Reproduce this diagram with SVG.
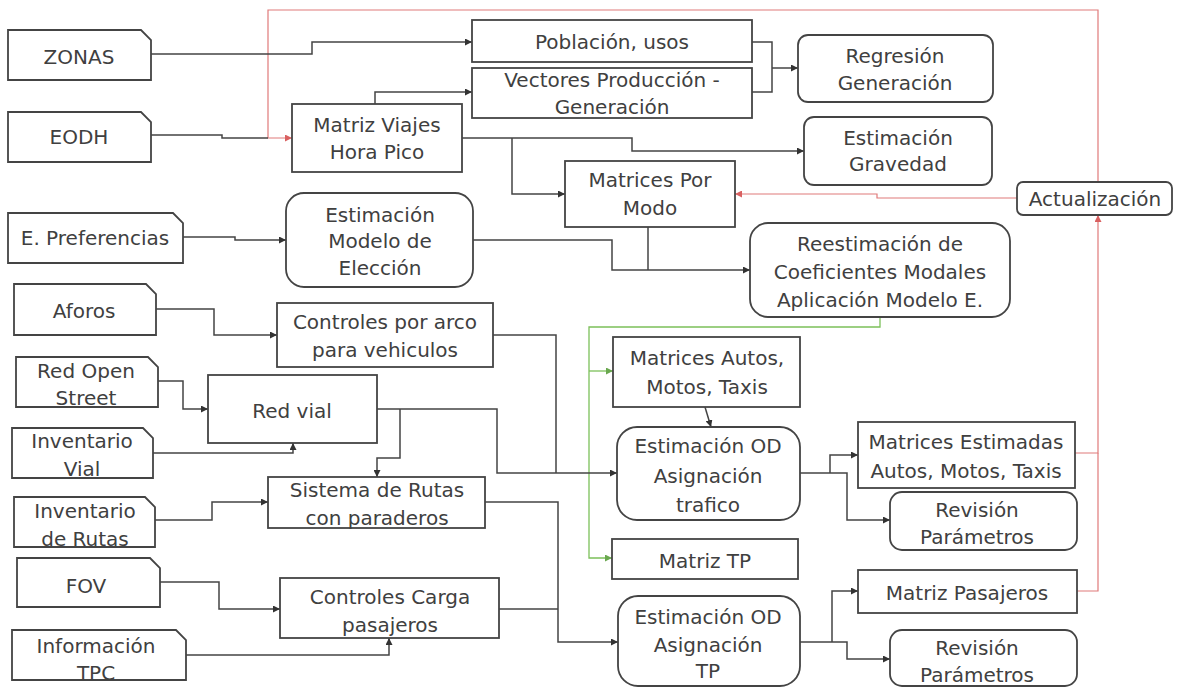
<svg xmlns="http://www.w3.org/2000/svg" width="1177" height="688" viewBox="0 0 1177 688">
<defs>
<style>
.n{fill:#fff;stroke:#444;stroke-width:1.8}
.t{font-family:"DejaVu Sans",sans-serif;font-size:20px;fill:#404040;text-anchor:middle;dominant-baseline:central}
.c{fill:none;stroke:#444;stroke-width:1.5}
.g{fill:none;stroke:#7cc05a;stroke-width:1.3}
.r{fill:none;stroke:#e07a7a;stroke-width:1.2}
</style>
<marker id="a" markerWidth="7" markerHeight="7" refX="7" refY="3.5" orient="auto" markerUnits="userSpaceOnUse"><path d="M0,0 L7,3.5 L0,7 z" fill="#333"/></marker>
<marker id="ag" markerWidth="7" markerHeight="7" refX="7" refY="3.5" orient="auto" markerUnits="userSpaceOnUse"><path d="M0,0 L7,3.5 L0,7 z" fill="#6aa84f"/></marker>
<marker id="ar" markerWidth="7" markerHeight="7" refX="7" refY="3.5" orient="auto" markerUnits="userSpaceOnUse"><path d="M0,0 L7,3.5 L0,7 z" fill="#d96060"/></marker>
</defs>
<rect width="1177" height="688" fill="#fff"/>

<g id="connectors">
<path class="r" d="M1098,182 V10 H268 V138 H292" marker-end="url(#ar)"/>
<path class="r" d="M1017,198 H877 V194 H735" marker-end="url(#ar)"/>
<path class="r" d="M1075,453 H1098 V215" marker-end="url(#ar)"/>
<path class="r" d="M1077,591 H1098 V453"/>
<path class="c" d="M151,54 H312 V42 H472" marker-end="url(#a)"/>
<path class="c" d="M151,135 H222 V138 H268"/>
<path class="c" d="M375,104 V92 H472" marker-end="url(#a)"/>
<path class="c" d="M462,138 H632 V151 H804" marker-end="url(#a)"/>
<path class="c" d="M512,138 V194 H565" marker-end="url(#a)"/>
<path class="c" d="M752,42 H772 V92 H752"/>
<path class="c" d="M772,68 H798" marker-end="url(#a)"/>
<path class="c" d="M183,237 H235 V240 H286" marker-end="url(#a)"/>
<path class="c" d="M473,240 H612 V270 H750" marker-end="url(#a)"/>
<path class="c" d="M648,227 V270"/>
<path class="g" d="M880,317 V327 H589 V558 H612" marker-end="url(#ag)"/>
<path class="g" d="M589,371 H613" marker-end="url(#ag)"/>
<path class="c" d="M705,407 L711,427" marker-end="url(#a)"/>
<path class="c" d="M156,309 H214 V335 H277" marker-end="url(#a)"/>
<path class="c" d="M493,335 H556 V473"/>
<path class="c" d="M377,409 H497 V473 H617" marker-end="url(#a)"/>
<path class="c" d="M400,409 V458 H377 V477" marker-end="url(#a)"/>
<path class="c" d="M158,381 H183 V409 H208" marker-end="url(#a)"/>
<path class="c" d="M153,453 H293 V443" marker-end="url(#a)"/>
<path class="c" d="M155,520 H212 V502 H268" marker-end="url(#a)"/>
<path class="c" d="M485,502 H558 V642 H618" marker-end="url(#a)"/>
<path class="c" d="M499,609 H558"/>
<path class="c" d="M160,582 H219 V609 H280" marker-end="url(#a)"/>
<path class="c" d="M186,655 H389 V638" marker-end="url(#a)"/>
<path class="c" d="M800,473 H847 V520 H890" marker-end="url(#a)"/>
<path class="c" d="M830,473 V455 H858" marker-end="url(#a)"/>
<path class="c" d="M800,642 H847 V659 H890" marker-end="url(#a)"/>
<path class="c" d="M832,642 V591 H858" marker-end="url(#a)"/>
</g>

<g id="zonas"><path class="n" d="M8,30 H141 L151,40 V80 H8 Z"/><text class="t" x="79" y="57">ZONAS</text></g>
<g id="eodh"><path class="n" d="M8,112 H141 L151,122 V162 H8 Z"/><text class="t" x="79" y="137">EODH</text></g>
<g id="epref"><path class="n" d="M8,213 H173 L183,223 V263 H8 Z"/><text class="t" x="95" y="238">E. Preferencias</text></g>
<g id="aforos"><path class="n" d="M14,284 H146 L156,294 V335 H14 Z"/><text class="t" x="84" y="311">Aforos</text></g>
<g id="redopen"><path class="n" d="M16,357 H148 L158,367 V407 H16 Z"/><text class="t" x="86" y="371">Red Open</text><text class="t" x="86" y="398">Street</text></g>
<g id="invvial"><path class="n" d="M12,428 H143 L153,438 V478 H12 Z"/><text class="t" x="82" y="441">Inventario</text><text class="t" x="82" y="469">Vial</text></g>
<g id="invrutas"><path class="n" d="M14,497 H145 L155,507 V547 H14 Z"/><text class="t" x="85" y="511">Inventario</text><text class="t" x="85" y="539">de Rutas</text></g>
<g id="fov"><path class="n" d="M17,558 H150 L160,568 V607 H17 Z"/><text class="t" x="86" y="586">FOV</text></g>
<g id="infotpc"><path class="n" d="M12,630 H176 L186,640 V680 H12 Z"/><text class="t" x="96" y="646">Información</text><text class="t" x="96" y="673">TPC</text></g>

<g id="poblacion"><rect class="n" x="472" y="20" width="280" height="42"/><text class="t" x="612" y="42">Población, usos</text></g>
<g id="vectores"><rect class="n" x="472" y="68" width="280" height="50"/><text class="t" x="612" y="80">Vectores Producción -</text><text class="t" x="612" y="107">Generación</text></g>
<g id="matrizviajes"><rect class="n" x="292" y="104" width="170" height="68"/><text class="t" x="377" y="125">Matriz Viajes</text><text class="t" x="377" y="152">Hora Pico</text></g>
<g id="matricesmodo"><rect class="n" x="565" y="161" width="170" height="66"/><text class="t" x="650" y="180">Matrices Por</text><text class="t" x="650" y="208">Modo</text></g>
<g id="regresion"><rect class="n" x="798" y="35" width="195" height="67" rx="10"/><text class="t" x="895" y="56">Regresión</text><text class="t" x="895" y="83">Generación</text></g>
<g id="gravedad"><rect class="n" x="804" y="117" width="188" height="68" rx="10"/><text class="t" x="898" y="138">Estimación</text><text class="t" x="898" y="164">Gravedad</text></g>
<g id="actualizacion"><rect class="n" x="1017" y="182" width="155" height="33" rx="6"/><text class="t" x="1095" y="199">Actualización</text></g>
<g id="modeloeleccion"><rect class="n" x="286" y="193" width="187" height="94" rx="18"/><text class="t" x="380" y="215">Estimación</text><text class="t" x="380" y="241">Modelo de</text><text class="t" x="380" y="268">Elección</text></g>
<g id="reestimacion"><rect class="n" x="750" y="223" width="260" height="94" rx="18"/><text class="t" x="880" y="244">Reestimación de</text><text class="t" x="880" y="272">Coeficientes Modales</text><text class="t" x="880" y="300">Aplicación Modelo E.</text></g>
<g id="controlesarco"><rect class="n" x="277" y="303" width="216" height="64"/><text class="t" x="385" y="322">Controles por arco</text><text class="t" x="385" y="350">para vehiculos</text></g>
<g id="redvial"><rect class="n" x="208" y="375" width="169" height="68"/><text class="t" x="292" y="411">Red vial</text></g>
<g id="sistemarutas"><rect class="n" x="268" y="477" width="217" height="51"/><text class="t" x="377" y="490">Sistema de Rutas</text><text class="t" x="377" y="518">con paraderos</text></g>
<g id="controlescarga"><rect class="n" x="280" y="578" width="219" height="60"/><text class="t" x="390" y="597">Controles Carga</text><text class="t" x="390" y="625">pasajeros</text></g>
<g id="matricesautos"><rect class="n" x="613" y="337" width="187" height="70"/><text class="t" x="707" y="358">Matrices Autos,</text><text class="t" x="707" y="387">Motos, Taxis</text></g>
<g id="odtrafico"><rect class="n" x="617" y="427" width="183" height="93" rx="20"/><text class="t" x="708" y="446">Estimación OD</text><text class="t" x="708" y="476">Asignación</text><text class="t" x="708" y="505">trafico</text></g>
<g id="matriztp"><rect class="n" x="612" y="539" width="186" height="40"/><text class="t" x="705" y="561">Matriz TP</text></g>
<g id="odtp"><rect class="n" x="618" y="596" width="182" height="90" rx="20"/><text class="t" x="708" y="617">Estimación OD</text><text class="t" x="708" y="645">Asignación</text><text class="t" x="708" y="671">TP</text></g>
<g id="matricesestimadas"><rect class="n" x="858" y="422" width="217" height="66"/><text class="t" x="966" y="442">Matrices Estimadas</text><text class="t" x="966" y="471">Autos, Motos, Taxis</text></g>
<g id="revision1"><rect class="n" x="890" y="492" width="187" height="58" rx="12"/><text class="t" x="977" y="510">Revisión</text><text class="t" x="977" y="537">Parámetros</text></g>
<g id="matrizpasajeros"><rect class="n" x="858" y="570" width="219" height="43"/><text class="t" x="967" y="593">Matriz Pasajeros</text></g>
<g id="revision2"><rect class="n" x="890" y="630" width="187" height="56" rx="12"/><text class="t" x="977" y="648">Revisión</text><text class="t" x="977" y="675">Parámetros</text></g>
</svg>
